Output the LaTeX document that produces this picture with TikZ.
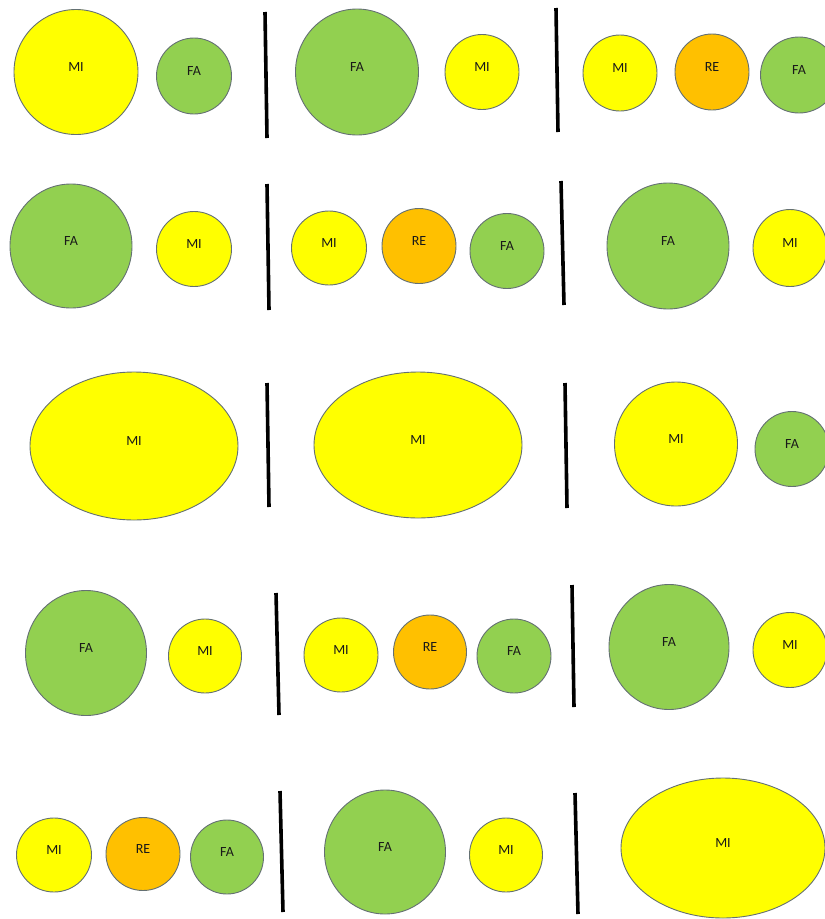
\documentclass[tikz,border=0pt]{standalone}
\usepackage{fontspec}
\setmainfont{Carlito}
\usetikzlibrary{shapes.geometric}
\definecolor{miyellow}{RGB}{255, 255, 0}
\definecolor{fagreen}{RGB}{146, 208, 80}
\definecolor{reorange}{RGB}{255, 192, 0}
\definecolor{rim}{RGB}{100, 112, 115}

\tikzset{
    blob/.style={ellipse, draw=rim, line width=0.9pt, inner sep=0pt,
        text depth=10pt, text=black!90, font=\fontsize{14}{16}\selectfont},
    mi/.style={blob, fill=miyellow},
    fa/.style={blob, fill=fagreen},
    re/.style={blob, fill=reorange},
    bar/.style={line width=3.6pt, black},
}

\begin{document}
\begin{tikzpicture}[x=1pt, y=-1pt]
\useasboundingbox (0,0) rectangle (825,919);
% row 1
\begin{scope}
    \node[mi, minimum width=124pt, minimum height=125pt] (miA) at (76,72) {MI};
    \node[fa, minimum width=75pt, minimum height=76pt] (faA) at (194,76) {FA};
    \draw[bar] (265,12) -- (267,138);
    \node[fa, minimum width=123pt, minimum height=126pt] (faB) at (357,72) {FA};
    \node[mi, minimum width=74pt, minimum height=75pt] (miB) at (482,72) {MI};
    \draw[bar] (556,8) -- (558,132);
    \node[mi, minimum width=74pt, minimum height=76pt] (miC) at (620,73) {MI};
    \node[re, minimum width=74pt, minimum height=76pt] (reC) at (712,72) {RE};
    \node[fa, minimum width=77pt, minimum height=76pt] (faC) at (799,75) {FA};
\end{scope}
% row 2
\begin{scope}
    \node[fa, minimum width=122pt, minimum height=124pt] (faD) at (71,246) {FA};
    \node[mi, minimum width=75pt, minimum height=75pt] (miD) at (194,249) {MI};
    \draw[bar] (267,184) -- (269,310);
    \node[mi, minimum width=75pt, minimum height=74pt] (miE) at (329,248) {MI};
    \node[re, minimum width=74pt, minimum height=75pt] (reE) at (419,246) {RE};
    \node[fa, minimum width=74pt, minimum height=75pt] (faE) at (507,251) {FA};
    \draw[bar] (561,181) -- (564,305);
    \node[fa, minimum width=122pt, minimum height=126pt] (faF) at (668,246) {FA};
    \node[mi, minimum width=74pt, minimum height=77pt] (miF) at (790,248) {MI};
\end{scope}
% row 3
\begin{scope}
    \node[mi, minimum width=208pt, minimum height=148pt] (miG) at (134,446) {MI};
    \draw[bar] (267,383) -- (269,507);
    \node[mi, minimum width=208pt, minimum height=146pt] (miH) at (418,445) {MI};
    \draw[bar] (565,383) -- (567,508);
    \node[mi, minimum width=123pt, minimum height=124pt] (miI) at (676,444) {MI};
    \node[fa, minimum width=74pt, minimum height=75pt] (faI) at (792,449) {FA};
\end{scope}
% row 4
\begin{scope}
    \node[fa, minimum width=121pt, minimum height=125pt] (faJ) at (86,653) {FA};
    \node[mi, minimum width=73pt, minimum height=74pt] (miJ) at (205,656) {MI};
    \draw[bar] (276,593) -- (279,715);
    \node[mi, minimum width=74pt, minimum height=74pt] (miK) at (341,655) {MI};
    \node[re, minimum width=73pt, minimum height=74pt] (reK) at (430,652) {RE};
    \node[fa, minimum width=74pt, minimum height=74pt] (faK) at (514,656) {FA};
    \draw[bar] (572,585) -- (574,707);
    \node[fa, minimum width=120pt, minimum height=125pt] (faL) at (669,647) {FA};
    \node[mi, minimum width=74pt, minimum height=75pt] (miL) at (790,650) {MI};
\end{scope}
% row 5
\begin{scope}
    \node[mi, minimum width=75pt, minimum height=74pt] (miM) at (54,855) {MI};
    \node[re, minimum width=74pt, minimum height=73pt] (reM) at (143,854) {RE};
    \node[fa, minimum width=73pt, minimum height=74pt] (faM) at (227,857) {FA};
    \draw[bar] (280,791) -- (283,912);
    \node[fa, minimum width=121pt, minimum height=124pt] (faN) at (385,852) {FA};
    \node[mi, minimum width=73pt, minimum height=74pt] (miN) at (506,855) {MI};
    \draw[bar] (575,793) -- (578,914);
    \node[mi, minimum width=204pt, minimum height=140pt] (miO) at (723,848) {MI};
\end{scope}
\end{tikzpicture}
\end{document}
